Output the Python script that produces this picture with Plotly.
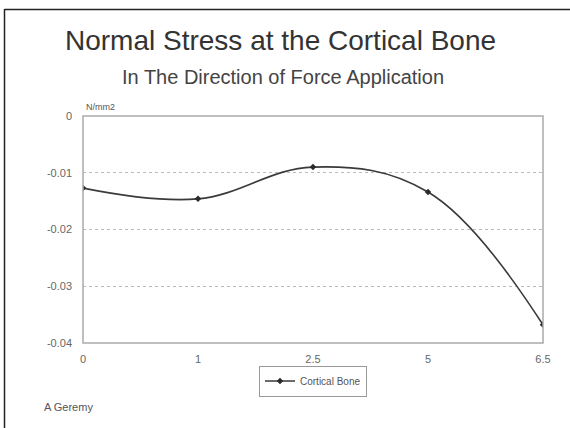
import plotly.graph_objects as go

categories = ["0", "1", "2.5", "5", "6.5"]
stress = [-0.0127, -0.0146, -0.0090, -0.0134, -0.0368]
series_name = "Cortical Bone"
y_ticks = [0, -0.01, -0.02, -0.03, -0.04]
y_tick_labels = ["0", "-0.01", "-0.02", "-0.03", "-0.04"]

W, H = 570, 428
L, R, T, B = 83, 27, 116, 85
pw, ph = W - L - R, H - T - B

def px(x):
    return (x - L) / pw

def py(y):
    return (H - B - y) / ph

fig = go.Figure()
fig.add_trace(go.Scatter(
    x=categories, y=stress, name=series_name,
    mode="lines+markers",
    line=dict(color="#3a3a3a", width=1.6, shape="spline", smoothing=1.1),
    marker=dict(color="#2a2a2a", size=5, symbol="diamond"),
))

font_family = "Liberation Sans, Arial, sans-serif"

fig.update_layout(
    width=W, height=H,
    margin=dict(l=L, r=R, t=T, b=B),
    paper_bgcolor="white", plot_bgcolor="white",
    font=dict(family=font_family, color="#555555", size=11),
    showlegend=True,
    legend=dict(
        x=0.5, y=py(381), xanchor="center", yanchor="middle",
        orientation="h", bordercolor="#999999", borderwidth=1,
        font=dict(size=10, color="#555555"), bgcolor="white",
        itemwidth=30, tracegroupgap=0,
    ),
    xaxis=dict(
        type="category", range=[0, 4], showgrid=False, zeroline=False,
        showline=False, ticks="", tickfont=dict(size=11, color="#666666"),
        ticklabelstandoff=8,
    ),
    yaxis=dict(
        range=[-0.04, 0], tickvals=y_ticks, ticktext=y_tick_labels,
        showgrid=True, gridcolor="#bbbbbb", griddash="dot", gridwidth=1,
        zeroline=False, showline=False, ticks="",
        tickfont=dict(size=11, color="#666666"), ticklabelstandoff=10,
    ),
    shapes=[
        dict(type="rect", xref="paper", yref="paper", x0=0, y0=0, x1=1, y1=1,
             line=dict(color="#aaaaaa", width=1.5)),
        dict(type="line", xref="paper", yref="paper", x0=px(4.5), x1=px(4.5),
             y0=py(9), y1=py(428), line=dict(color="#222222", width=1.5)),
        dict(type="line", xref="paper", yref="paper", x0=px(4.5), x1=px(570),
             y0=py(9.5), y1=py(9.5), line=dict(color="#222222", width=1.5)),
    ],
    annotations=[
        dict(text="Normal Stress at the Cortical Bone", xref="paper", yref="paper",
             x=px(280), y=py(40), xanchor="center", yanchor="middle",
             showarrow=False, font=dict(size=28, color="#333333", family=font_family)),
        dict(text="In The Direction of Force Application", xref="paper", yref="paper",
             x=px(283), y=py(77), xanchor="center", yanchor="middle",
             showarrow=False, font=dict(size=20, color="#444444", family=font_family)),
        dict(text="N/mm2", xref="paper", yref="paper",
             x=px(84), y=py(107), xanchor="left", yanchor="middle",
             showarrow=False, font=dict(size=9, color="#555555", family=font_family)),
        dict(text="A Geremy", xref="paper", yref="paper",
             x=px(42), y=py(407), xanchor="left", yanchor="middle",
             showarrow=False, font=dict(size=11, color="#555555", family=font_family)),
    ],
)

fig.write_html("out.html", config={"displayModeBar": False},
               post_script="document.body.style.margin='0';document.body.style.padding='0';")
